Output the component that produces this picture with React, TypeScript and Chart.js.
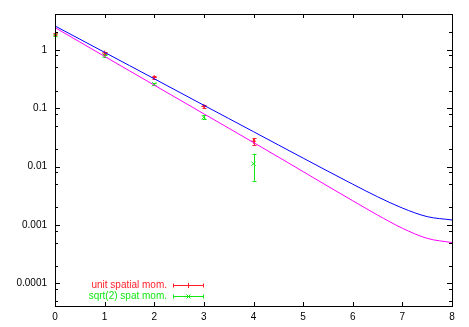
import React, { useEffect, useRef } from "react";
import { Chart, registerables } from "chart.js";

Chart.register(...registerables);

// fitted curves, every 0.5
const curveX = [0, 0.5, 1, 1.5, 2, 2.5, 3, 3.5, 4, 4.5, 5, 5.5, 6, 6.5, 7, 7.5, 8];
const unitFit = [2.56, 1.52, 0.903, 0.537, 0.319, 0.189, 0.112, 0.0666, 0.0396, 0.0235, 0.01397, 0.00832, 0.00499, 0.00304, 0.00195, 0.00139, 0.00122];
const sqrtFit = [2.4, 1.36, 0.77, 0.437, 0.248, 0.141, 0.08, 0.0455, 0.0258, 0.0146, 0.0082, 0.0046, 0.0026, 0.00148, 0.00088, 0.00059, 0.0005];

// measured points with error bars
const dataX = [0, 1, 2, 3, 4];
const unitVal = [1.87, 0.88, 0.335, 0.107, 0.0272];
const unitLo = [1.8, 0.85, 0.32, 0.101, 0.0235];
const unitHi = [1.95, 0.92, 0.35, 0.113, 0.031];
const sqrtVal = [1.78, 0.79, 0.257, 0.0698, 0.0112];
const sqrtLo = [1.7, 0.76, 0.245, 0.065, 0.0057];
const sqrtHi = [1.86, 0.82, 0.27, 0.075, 0.0166];

const xTicks = [0, 1, 2, 3, 4, 5, 6, 7, 8];
const yTicks = [0.0001, 0.001, 0.01, 0.1, 1];
const yMinorFactors = [2, 5, 8];
const legendLabels = ["unit spatial mom.", "sqrt(2) spat mom."];

const RED = "rgb(255,30,40)";
const GREEN = "rgb(20,230,20)";
const BLUE = "#0000ff";
const MAGENTA = "#ff00ff";
const FONT = "Liberation Sans";

function drawPlus(ctx: CanvasRenderingContext2D, x: number, y: number, r: number) {
  ctx.beginPath();
  ctx.moveTo(x - r, y);
  ctx.lineTo(x + r, y);
  ctx.moveTo(x, y - r);
  ctx.lineTo(x, y + r);
  ctx.stroke();
}
function drawX(ctx: CanvasRenderingContext2D, x: number, y: number, r: number) {
  ctx.beginPath();
  ctx.moveTo(x - r, y - r);
  ctx.lineTo(x + r, y + r);
  ctx.moveTo(x - r, y + r);
  ctx.lineTo(x + r, y - r);
  ctx.stroke();
}

const errorBarPlugin = {
  id: "errorBars",
  beforeDatasetsDraw(chart: any) {
    const { ctx, scales } = chart;
    const xs = scales.x;
    const ys = scales.y;
    const series = [
      { lo: unitLo, hi: unitHi, color: RED },
      { lo: sqrtLo, hi: sqrtHi, color: GREEN },
    ];
    ctx.save();
    ctx.lineWidth = 1;
    series.forEach((s) => {
      ctx.strokeStyle = s.color;
      dataX.forEach((xv, i) => {
        const px = Math.round(xs.getPixelForValue(xv)) + 0.5;
        const y1 = ys.getPixelForValue(s.lo[i]);
        const y2 = ys.getPixelForValue(s.hi[i]);
        ctx.beginPath();
        ctx.moveTo(px, y1);
        ctx.lineTo(px, y2);
        ctx.moveTo(px - 2, Math.round(y1) + 0.5);
        ctx.lineTo(px + 2, Math.round(y1) + 0.5);
        ctx.moveTo(px - 2, Math.round(y2) + 0.5);
        ctx.lineTo(px + 2, Math.round(y2) + 0.5);
        ctx.stroke();
      });
    });
    ctx.restore();
  },
};

const framePlugin = {
  id: "gnuplotFrame",
  afterDraw(chart: any) {
    const { ctx, chartArea, scales } = chart;
    const { left, right, top, bottom } = chartArea;
    const xs = scales.x;
    const ys = scales.y;
    ctx.save();
    ctx.strokeStyle = "#000";
    ctx.lineWidth = 1;
    ctx.strokeRect(Math.round(left) + 0.5, Math.round(top) + 0.5, Math.round(right - left), Math.round(bottom - top));
    ctx.beginPath();
    xTicks.forEach((v) => {
      const px = Math.round(xs.getPixelForValue(v)) + 0.5;
      ctx.moveTo(px, bottom);
      ctx.lineTo(px, bottom - 4);
      ctx.moveTo(px, top);
      ctx.lineTo(px, top + 4);
    });
    yTicks.forEach((v) => {
      const py = Math.round(ys.getPixelForValue(v)) + 0.5;
      ctx.moveTo(left, py);
      ctx.lineTo(left + 5, py);
      ctx.moveTo(right, py);
      ctx.lineTo(right - 5, py);
    });
    const decades = [0.00001, 0.0001, 0.001, 0.01, 0.1, 1];
    decades.forEach((d) => {
      yMinorFactors.forEach((f) => {
        const v = d * f;
        if (v < ys.min || v > ys.max) return;
        const py = Math.round(ys.getPixelForValue(v)) + 0.5;
        ctx.moveTo(left, py);
        ctx.lineTo(left + 3, py);
        ctx.moveTo(right, py);
        ctx.lineTo(right - 3, py);
      });
    });
    ctx.stroke();

    // legend
    ctx.font = `10px "${FONT}"`;
    ctx.textAlign = "right";
    ctx.textBaseline = "middle";
    const rows = [
      { label: legendLabels[0], color: RED, y: 285.5, mark: "plus" },
      { label: legendLabels[1], color: GREEN, y: 296.5, mark: "x" },
    ];
    rows.forEach((r) => {
      ctx.fillStyle = r.color;
      ctx.fillText(r.label, 167, r.y - 0.5);
      ctx.strokeStyle = r.color;
      ctx.lineWidth = 1;
      ctx.beginPath();
      ctx.moveTo(173, r.y);
      ctx.lineTo(204, r.y);
      ctx.stroke();
      ctx.beginPath();
      ctx.moveTo(173.5, r.y - 2);
      ctx.lineTo(173.5, r.y + 2);
      ctx.moveTo(203.5, r.y - 2);
      ctx.lineTo(203.5, r.y + 2);
      ctx.stroke();
      if (r.mark === "plus") drawPlus(ctx, 188.5, r.y, 2.5);
      else drawX(ctx, 188.5, r.y, 2);
    });
    ctx.restore();
  },
};

export default function App() {
  const ref = useRef<HTMLCanvasElement | null>(null);
  useEffect(() => {
    if (!ref.current) return;
    const chart = new Chart(ref.current, {
      type: "line",
      data: {
        datasets: [
          {
            label: "unit fit",
            data: curveX.map((x, i) => ({ x, y: unitFit[i] })),
            borderColor: BLUE,
            borderWidth: 1,
            pointRadius: 0,
            cubicInterpolationMode: "monotone",
            fill: false,
          },
          {
            label: "sqrt fit",
            data: curveX.map((x, i) => ({ x, y: sqrtFit[i] })),
            borderColor: MAGENTA,
            borderWidth: 1,
            pointRadius: 0,
            cubicInterpolationMode: "monotone",
            fill: false,
          },
          {
            label: legendLabels[0],
            data: dataX.map((x, i) => ({ x, y: unitVal[i] })),
            showLine: false,
            pointStyle: "cross",
            pointRadius: 2.5,
            borderColor: RED,
            backgroundColor: RED,
            borderWidth: 1,
          },
          {
            label: legendLabels[1],
            data: dataX.map((x, i) => ({ x, y: sqrtVal[i] })),
            showLine: false,
            pointStyle: "crossRot",
            pointRadius: 3,
            borderColor: GREEN,
            backgroundColor: GREEN,
            borderWidth: 1,
          },
        ],
      },
      options: {
        responsive: false,
        animation: false,
        layout: { padding: { top: 12, right: 17, bottom: 0, left: 0 } },
        plugins: { legend: { display: false }, tooltip: { enabled: false } },
        scales: {
          x: {
            type: "linear",
            min: 0,
            max: 8,
            grid: { display: false, drawTicks: false },
            border: { display: false },
            ticks: { font: { family: FONT, size: 10 }, color: "#000", padding: 5, maxRotation: 0 },
            afterBuildTicks: (s: any) => {
              s.ticks = xTicks.map((v) => ({ value: v }));
            },
            afterFit: (s: any) => {
              s.height = 21;
            },
          },
          y: {
            type: "logarithmic",
            min: 0.000041,
            max: 4.1,
            grid: { display: false, drawTicks: false },
            border: { display: false },
            ticks: {
              font: { family: FONT, size: 10 },
              color: "#000",
              padding: 8,
              callback: (v: any) => String(v),
            },
            afterBuildTicks: (s: any) => {
              s.ticks = yTicks.map((v) => ({ value: v }));
            },
            afterFit: (s: any) => {
              s.width = 55;
            },
          },
        },
      },
      plugins: [errorBarPlugin, framePlugin],
    } as any);
    return () => chart.destroy();
  }, []);
  return (
    <div style={{ position: "absolute", left: 0, top: 0, width: 469, height: 327, background: "#fff" }}>
      <canvas ref={ref} width={469} height={327} style={{ display: "block" }} />
    </div>
  );
}
